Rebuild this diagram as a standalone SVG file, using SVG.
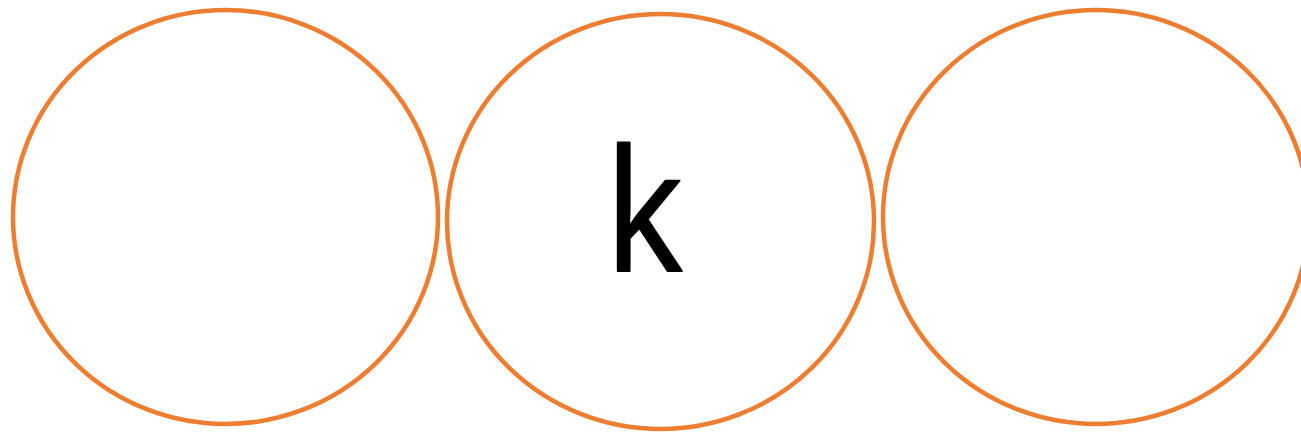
<svg xmlns="http://www.w3.org/2000/svg" width="1301" height="434" viewBox="0 0 1301 434">
<style>
.node{fill:none;stroke:#ED7D31;stroke-width:4.5}
.lbl{font-family:"Open Sans","Noto Sans",sans-serif;font-size:169px;fill:#000;stroke:#000;stroke-width:2;stroke-linejoin:round}
</style>
<rect width="1301" height="434" fill="#fff"/>
<g id="node-left"><ellipse class="node" cx="225.5" cy="217" rx="212.5" ry="207"/></g>
<g id="node-k"><ellipse class="node" cx="660.5" cy="221.5" rx="213.5" ry="207.5"/><text class="lbl" x="0" y="271" text-anchor="middle" transform="translate(644 0) scale(0.88 1)">k</text></g>
<g id="node-right"><ellipse class="node" cx="1096" cy="217" rx="213" ry="207"/></g>
<g id="connectors"></g>
</svg>
